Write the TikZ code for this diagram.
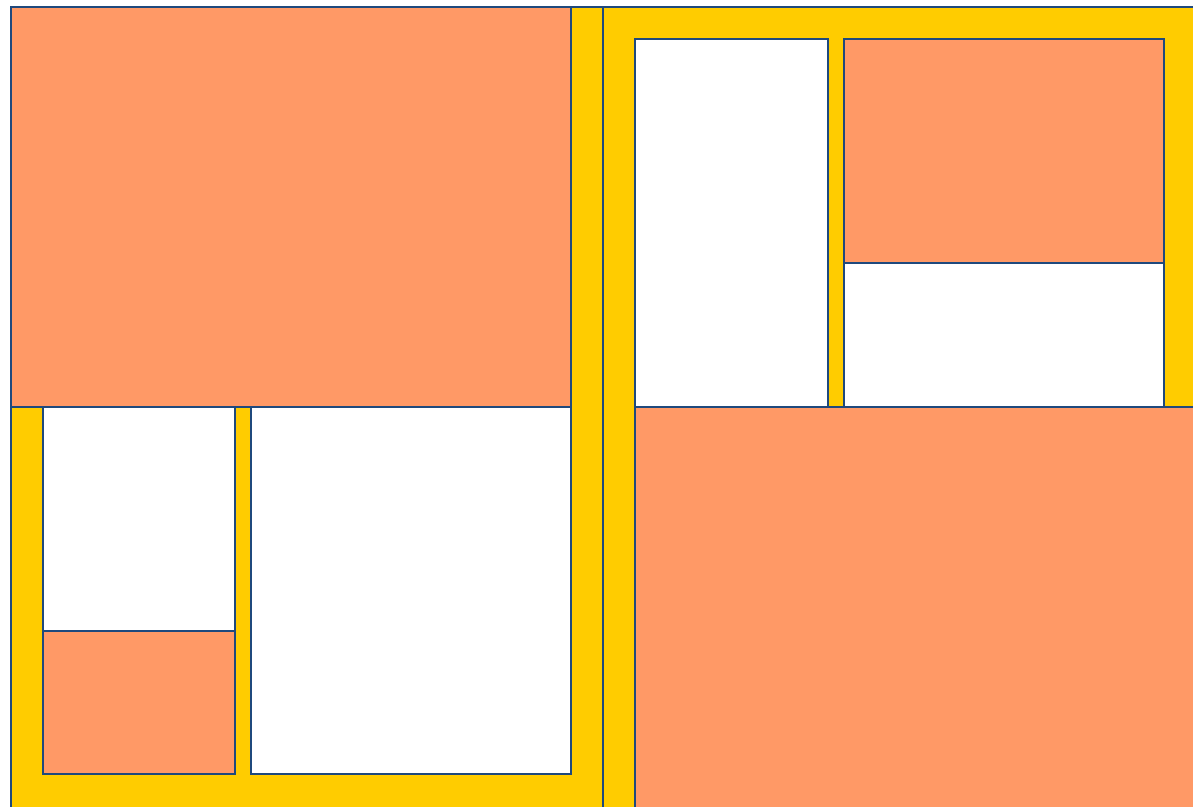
\documentclass[tikz,border=0pt]{standalone}
\usepackage{tikz}
\definecolor{tileline}{RGB}{31,73,125}
\definecolor{tileorange}{RGB}{255,153,102}
\definecolor{tileyellow}{RGB}{255,204,0}

\begin{document}
\begin{tikzpicture}[
  x=1pt, y=-1pt,
  panel/.style={draw=tileline, line width=2pt, fill=tileyellow},
  hot/.style={draw=tileline, line width=2pt, fill=tileorange},
  cold/.style={draw=tileline, line width=2pt, fill=white}
]
\useasboundingbox (0,0) rectangle (1193,806);
\clip (0,0) rectangle (1193,806);
% left half
\draw[panel] (11,7) rectangle (603,830);
\draw[hot] (11,7) rectangle (571,407);
\draw[cold] (43,407) rectangle (235,774);
\draw[hot] (43,631) rectangle (235,774);
\draw[cold] (251,407) rectangle (571,774);
% right half
\draw[panel] (603,7) rectangle (1220,830);
\draw[cold] (635,39) rectangle (828,407);
\draw[hot] (844,39) rectangle (1164,263);
\draw[cold] (844,263) rectangle (1164,407);
\draw[hot] (635,407) rectangle (1220,830);
\end{tikzpicture}
\end{document}
